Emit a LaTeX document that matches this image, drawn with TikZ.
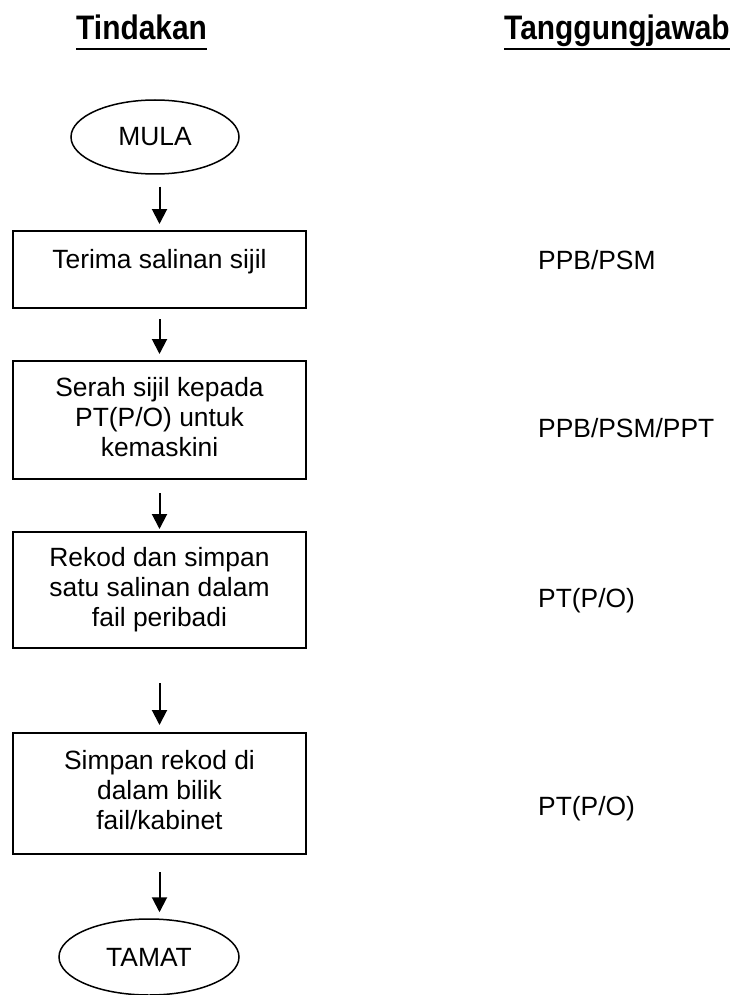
\documentclass[tikz,border=0pt]{standalone}
\usepackage{fontspec}
\setmainfont{Liberation Sans}
\newfontfamily\headfont{Liberation Sans}[FakeStretch=0.88]
\usetikzlibrary{shapes.geometric,arrows.meta}
\newcommand\fstrut{\rule[-9pt]{0pt}{30pt}}
\begin{document}
\begin{tikzpicture}[x=1pt,y=-1pt,
  body/.style={font=\fontsize{26.4}{30}\selectfont},
  flowbox/.style={draw,line width=2pt,rectangle,minimum width=293pt,inner sep=0pt,align=center,body},
  term/.style={draw,line width=1.5pt,ellipse,inner sep=0pt,body},
  arr/.style={line width=2pt,-{Triangle[length=15pt,width=15pt]}},
  head/.style={font=\headfont\bfseries\fontsize{34}{36}\selectfont,anchor=base west,inner sep=0pt},
  resp/.style={body,anchor=base west,inner sep=0pt},
  ul/.style={line width=2.8pt}]
\path[use as bounding box] (0,0) rectangle (739,995);
\node[head] (h1) at (76,40) {Tindakan};
\draw[ul] ([yshift=-9pt]h1.base west) -- ([yshift=-9pt]h1.base east);
\node[head] (h2) at (504,40) {Tanggungjawab};
\draw[ul] ([yshift=-9pt]h2.base west) -- ([yshift=-9pt]h2.base east);

\node[term,minimum width=168pt,minimum height=74pt] (mula) at (155,137) {MULA};
\node[flowbox,minimum height=77pt,text height=19pt,text depth=22pt] (b1) at (159.5,269.5) {Terima salinan sijil};
\node[flowbox,minimum height=118pt] (b2) at (159.5,420) {\fstrut Serah sijil kepada\\PT(P/O) untuk\\kemaskini\fstrut};
\node[flowbox,minimum height=116pt] (b3) at (159.5,590) {\fstrut Rekod dan simpan\\satu salinan dalam\\fail peribadi\fstrut};
\node[flowbox,minimum height=121pt] (b4) at (159.5,793.5) {\fstrut Simpan rekod di\\dalam bilik\\fail/kabinet\fstrut};
\node[term,minimum width=180pt,minimum height=76pt] (tamat) at (149,957) {TAMAT};

\draw[arr,shorten <=12pt,shorten >=6pt] (mula.south -| b1.north) -- (b1.north);
\draw[arr,shorten <=10pt,shorten >=6pt] (b1.south) -- (b2.north);
\draw[arr,shorten <=13pt,shorten >=2pt] (b2.south) -- (b3.north);
\draw[arr,shorten <=34pt,shorten >=7pt] (b3.south) -- (b4.north);
\draw[arr,shorten <=17pt,shorten >=6pt] (b4.south) -- (tamat.north -| b4.south);

\node[resp] (r1) at (538,269) {PPB/PSM};
\node[resp] (r2) at (538,437) {PPB/PSM/PPT};
\node[resp] (r3) at (538,607) {PT(P/O)};
\node[resp] (r4) at (538,815) {PT(P/O)};
\end{tikzpicture}
\end{document}
